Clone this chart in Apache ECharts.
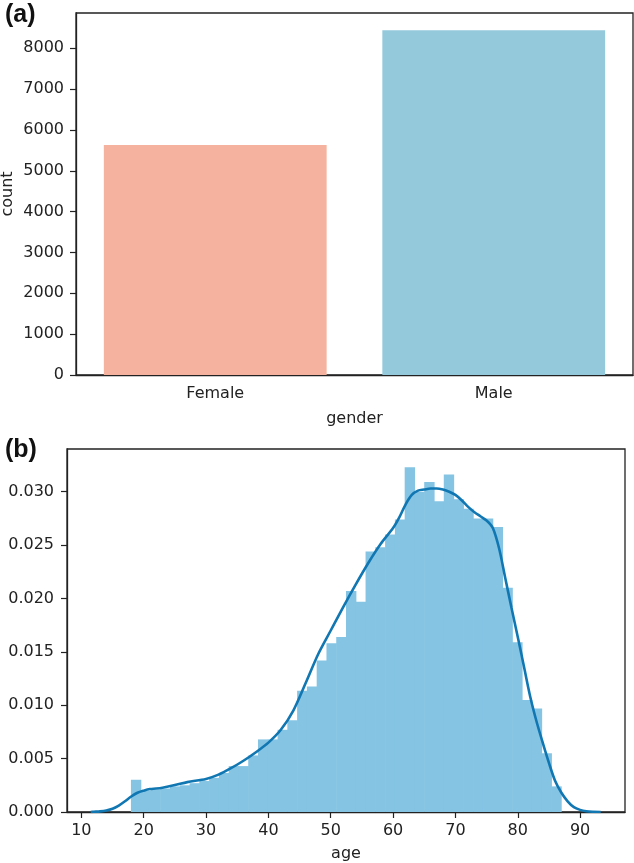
<!DOCTYPE html>
<html><head><meta charset="utf-8">
<script src="https://cdn.jsdelivr.net/npm/echarts@6/dist/echarts.min.js"></script>
<style>html,body{margin:0;padding:0;background:#fff}#c{width:634px;height:863px}</style>
</head><body><div id="c"></div>
<script>
// ---- panel (a) data ----
var genderCategories = ['Female', 'Male'];
var genderCounts = [5630, 8440];
var countTicks = [0, 1000, 2000, 3000, 4000, 5000, 6000, 7000, 8000];

// ---- panel (b) data ----
var ageBinStart = 18;
var ageBinEnd = 87;
var ageHistDensity = [0.00302, 0.0020, 0.0021, 0.0022, 0.0024, 0.0025, 0.0027, 0.0029, 0.0032, 0.00365,
  0.0043, 0.0043, 0.0053, 0.0068, 0.0068, 0.0077, 0.0086, 0.01135, 0.01176, 0.0142,
  0.0158, 0.0164, 0.0207, 0.0197, 0.0244, 0.0248, 0.0260, 0.0274, 0.0323, 0.0300,
  0.0309, 0.0291, 0.0316, 0.0293, 0.0284, 0.0275, 0.0275, 0.0267, 0.0210, 0.0159,
  0.0105, 0.0097, 0.0055, 0.0024];
var kdeAge = [11.5, 12, 13, 14, 15, 16, 17, 18, 19, 20, 21, 22, 23, 25, 27, 30, 32, 34, 36, 38, 40, 42, 44, 46, 48,
  50, 52, 54, 56, 58, 60, 61, 62, 63, 64, 65, 66, 67, 68, 69, 70, 71, 72, 73, 74, 75, 76, 77, 78, 79, 80,
  81, 82, 83, 84, 85, 86, 87, 88, 89, 90, 91, 92, 93.3];
var kdeDensity = [0, 0.00002, 0.00006, 0.00014, 0.0003, 0.0006, 0.0010, 0.00145, 0.0018, 0.0020, 0.00215, 0.0022,
  0.00228, 0.00252, 0.0028, 0.0031, 0.0035, 0.0041, 0.0048, 0.0056, 0.0065, 0.0077, 0.0095, 0.0121, 0.0148,
  0.0170, 0.0192, 0.0213, 0.0233, 0.0251, 0.0266, 0.0276, 0.0288, 0.0297, 0.0301, 0.0302, 0.0303, 0.0303,
  0.0302, 0.0300, 0.0297, 0.0292, 0.0286, 0.0281, 0.0277, 0.0273, 0.0266, 0.0247, 0.0219, 0.0191, 0.0164,
  0.0136, 0.0108, 0.0085, 0.0065, 0.0046, 0.0029, 0.0018, 0.0010, 0.00045, 0.0002, 0.00007, 0.00002, 0];
var ageTicks = [10, 20, 30, 40, 50, 60, 70, 80, 90];
var densityTicks = [0, 0.005, 0.010, 0.015, 0.020, 0.025, 0.030];

// ---- build ----
var barColors = ['#F5B39F', '#93C9DB'];
var histColor = '#85C4E3';
var binW = (ageBinEnd - ageBinStart) / ageHistDensity.length;
var histData = ageHistDensity.map(function (d, i) {
  return [ageBinStart + i * binW, ageBinStart + (i + 1) * binW, d];
});
var kdeData = kdeAge.map(function (a, i) { return [a, kdeDensity[i]]; });

var FONT = 'DejaVu Sans';
var axisCol = '#222';
function lbl(extra) {
  return Object.assign({ color: '#222', fontFamily: FONT, fontSize: 16 }, extra);
}

var chart = echarts.init(document.getElementById('c'), null, { renderer: 'canvas' });
chart.setOption({
  animation: false,
  backgroundColor: '#fff',
  title: [
    { text: '{p|(}{b|a}{p|)}', left: 0, top: -2, textStyle: { rich: {
        p: { fontFamily: 'Liberation Sans', fontSize: 25, color: '#111' },
        b: { fontFamily: 'Liberation Sans', fontSize: 25, fontWeight: 'bold', color: '#111' } } } },
    { text: '{p|(}{b|b}{p|)}', left: 0, top: 433, textStyle: { rich: {
        p: { fontFamily: 'Liberation Sans', fontSize: 25, color: '#111' },
        b: { fontFamily: 'Liberation Sans', fontSize: 25, fontWeight: 'bold', color: '#111' } } } }
  ],
  grid: [
    { left: 76, top: 13, right: 1, height: 362, show: true, borderColor: axisCol, borderWidth: 1.3,
      backgroundColor: 'transparent', containLabel: false, outerBoundsMode: 'none' },
    { left: 67, top: 449, right: 9, height: 363, show: true, borderColor: axisCol, borderWidth: 1.3,
      backgroundColor: 'transparent', containLabel: false, outerBoundsMode: 'none' }
  ],
  xAxis: [
    { type: 'category', gridIndex: 0, data: genderCategories,
      name: 'gender', nameLocation: 'middle', nameGap: 36, nameMoveOverlap: false,
      nameTextStyle: lbl({}),
      axisLine: { lineStyle: { color: axisCol, width: 1.3 } },
      axisTick: { alignWithLabel: true, length: 6, lineStyle: { color: axisCol, width: 1.2 } },
      axisLabel: lbl({ margin: 11 }),
      splitLine: { show: false } },
    { type: 'value', gridIndex: 1, min: 7.7, max: 97.2,
      name: 'age', nameLocation: 'middle', nameGap: 34, nameMoveOverlap: false,
      nameTextStyle: lbl({}),
      axisLine: { onZero: false, lineStyle: { color: axisCol, width: 1.3 } },
      axisTick: { length: 6, customValues: ageTicks, lineStyle: { color: axisCol, width: 1.2 } },
      axisLabel: lbl({ margin: 11, customValues: ageTicks, formatter: function (v) { return String(v); } }),
      splitLine: { show: false } }
  ],
  yAxis: [
    { type: 'value', gridIndex: 0, min: 0, max: 8862,
      name: 'count', nameLocation: 'middle', nameGap: 60, nameMoveOverlap: false,
      nameTextStyle: lbl({}),
      axisLine: { show: true, lineStyle: { color: axisCol, width: 1.3 } },
      axisTick: { show: true, length: 6, customValues: countTicks, lineStyle: { color: axisCol, width: 1.2 } },
      axisLabel: lbl({ margin: 12, customValues: countTicks, formatter: function (v) { return String(v); } }),
      splitLine: { show: false } },
    { type: 'value', gridIndex: 1, min: 0, max: 0.034,
      axisLine: { show: true, lineStyle: { color: axisCol, width: 1.3 } },
      axisTick: { show: true, length: 6, customValues: densityTicks, lineStyle: { color: axisCol, width: 1.2 } },
      axisLabel: lbl({ margin: 13, customValues: densityTicks,
        formatter: function (v) { return v.toFixed(3); } }),
      splitLine: { show: false } }
  ],
  series: [
    { type: 'bar', xAxisIndex: 0, yAxisIndex: 0, barCategoryGap: '20%',
      data: genderCounts.map(function (v, i) { return { value: v, itemStyle: { color: barColors[i] } }; }) },
    { type: 'custom', xAxisIndex: 1, yAxisIndex: 1, data: histData,
      renderItem: function (params, api) {
        var p0 = api.coord([api.value(0), 0]);
        var p1 = api.coord([api.value(1), api.value(2)]);
        return { type: 'rect', shape: { x: p0[0] - 0.3, y: p1[1], width: p1[0] - p0[0] + 0.6, height: p0[1] - p1[1] },
          style: { fill: histColor } };
      } },
    { type: 'line', xAxisIndex: 1, yAxisIndex: 1, data: kdeData, smooth: 0.3, symbol: 'none',
      lineStyle: { color: '#1177B3', width: 2.6 }, z: 5 }
  ]
});
</script></body></html>
